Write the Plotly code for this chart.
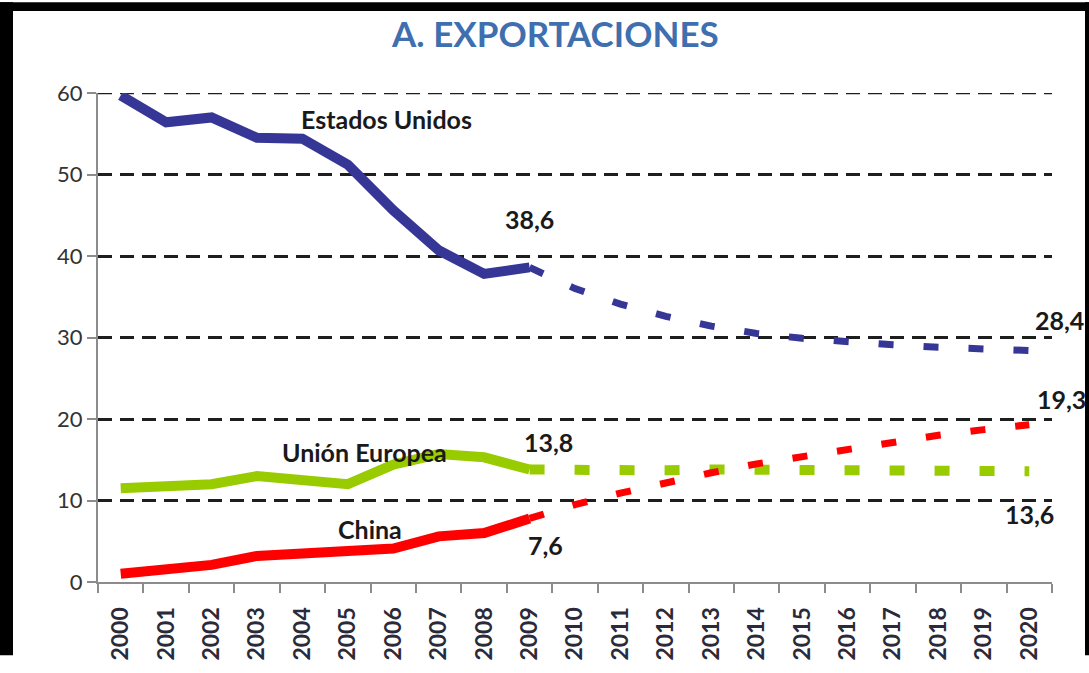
import plotly.graph_objects as go

years = ["2000", "2001", "2002", "2003", "2004", "2005", "2006", "2007", "2008", "2009", "2010",
         "2011", "2012", "2013", "2014", "2015", "2016", "2017", "2018", "2019", "2020"]
hist_years = years[:10]
proj_years = years[9:]

us_hist = [59.7, 56.4, 57.0, 54.5, 54.4, 51.2, 45.6, 40.7, 37.8, 38.6]
us_proj = [38.6, 36.0, 34.1, 32.6, 31.4, 30.5, 29.9, 29.4, 29.1, 28.8, 28.6, 28.4]
eu_hist = [11.5, 11.9, 12.0, 13.0, 12.4, 12.0, 14.4, 15.7, 15.3, 13.8]
eu_proj = [13.8, 13.7, 13.6, 13.7, 13.8, 13.8, 13.8, 13.8, 13.7, 13.6, 13.6, 13.6]
cn_hist = [1.0, 1.6, 2.1, 3.2, 3.4, 3.7, 4.1, 5.6, 6.0, 7.8]
cn_proj = [7.8, 9.5, 10.9, 12.2, 13.4, 14.5, 15.4, 16.4, 17.1, 18.0, 18.7, 19.3]

y_ticks = [0, 10, 20, 30, 40, 50, 60]

US, EU, CN = "#363697", "#99cc00", "#ff0000"
FONT = "Lato"
GRID = dict(color="#1e1e1e", width=2.5, dash="14px,8px")

fig = go.Figure()
for yh, yp, color, w_dash in ((us_hist, us_proj, US, 7),
                              (eu_hist, eu_proj, EU, 10),
                              (cn_hist, cn_proj, CN, 7)):
    fig.add_trace(go.Scatter(x=proj_years, y=yp, mode="lines", cliponaxis=False,
                             line=dict(color=color, width=w_dash, dash="15px,30px")))
    fig.add_trace(go.Scatter(x=hist_years, y=yh, mode="lines", cliponaxis=False,
                             line=dict(color=color, width=10)))

# series names and value labels (x as category index, xshift for the ones past the axis end)
labels = [
    ("Estados Unidos", 5.84, 56.8, 0), ("38,6", 9.0, 44.6, 0), ("28,4", 20.5, 32.1, 7),
    ("19,3", 20.5, 22.5, 9), ("13,8", 9.42, 17.2, 0), ("Unión Europea", 5.37, 16.0, 0),
    ("China", 5.48, 6.5, 0), ("7,6", 9.36, 4.55, 0), ("13,6", 20.0, 8.3, 0),
]
for txt, xi, yi, dx in labels:
    fig.add_annotation(x=xi, y=yi, text=txt, showarrow=False, xshift=dx,
                       font=dict(family=FONT, size=25, color="#1a1a1a", weight="bold"))

# top gridline sits on the plot edge, plotly drops it -> draw it as a shape
fig.add_hline(y=y_ticks[-1], line=GRID, layer="below")

# black frame of the scanned picture (top, left, right bands)
top = 1 + (93 - 9) / 501
page_top = 1 + 93 / 501
left = (13 - 98) / 954
page_left = -98 / 954
right = (1085 - 98) / 954
for x0, x1, y0, y1 in ((page_left, 1.04, top, page_top),
                       (page_left, left, -0.15, page_top),
                       (right, 1.04, -0.15, page_top)):
    fig.add_shape(type="rect", xref="paper", yref="paper", x0=x0, x1=x1, y0=y0, y1=y1,
                  fillcolor="black", line=dict(width=0))

fig.update_layout(
    width=1089, height=673, showlegend=False,
    paper_bgcolor="white", plot_bgcolor="white",
    margin=dict(l=98, r=37, t=93, b=79),
    title=dict(text="<b>A. EXPORTACIONES</b>", x=0.51, xanchor="center",
               y=1 - 35 / 673, yanchor="middle",
               font=dict(family=FONT, size=35, color="#3f6fae")),
    xaxis=dict(type="category", categoryorder="array", categoryarray=years,
               range=[-0.5, 20.5], tickson="boundaries", ticks="outside", ticklen=9,
               tickwidth=2, tickcolor="#8c8c8c", showline=True, linecolor="#8c8c8c",
               linewidth=2, showgrid=False, tickangle=-90, ticklabelstandoff=14,
               tickfont=dict(family=FONT, size=23, color="#2a2a3a", weight="bold")),
    yaxis=dict(range=[0, 60], tickvals=y_ticks, ticks="outside", ticklen=9, tickwidth=2,
               tickcolor="#8c8c8c", showline=True, linecolor="#8c8c8c", linewidth=2,
               showgrid=True, gridcolor=GRID["color"], gridwidth=GRID["width"],
               griddash=GRID["dash"], zeroline=False,
               tickfont=dict(family=FONT, size=22, color="#333333")),
)

fig.write_html("out.html", config={"displayModeBar": False},
               post_script="document.body.style.margin='0';")
